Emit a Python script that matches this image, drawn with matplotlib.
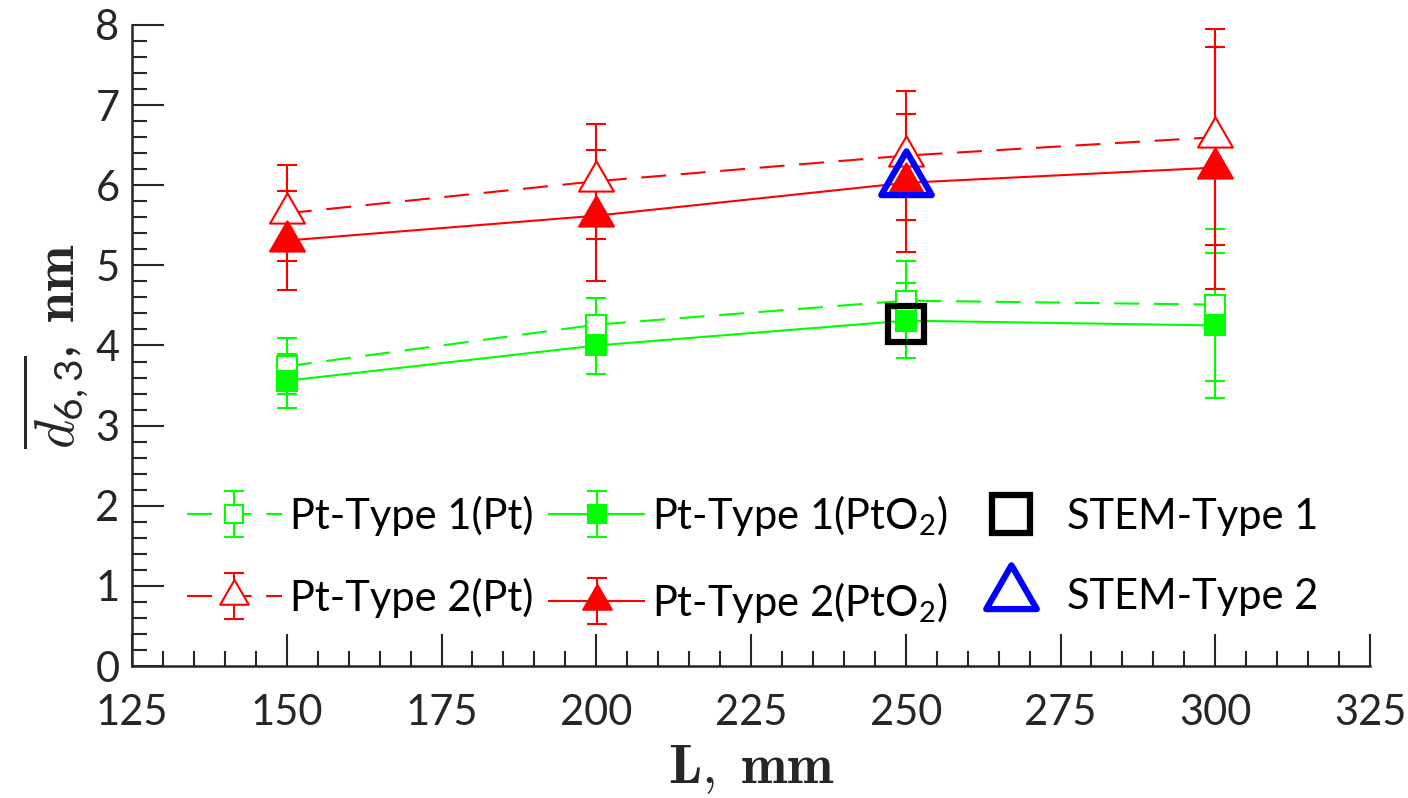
import numpy as np
import matplotlib
matplotlib.use('Agg')
import matplotlib.pyplot as plt
from matplotlib.ticker import MultipleLocator
from matplotlib.path import Path
from matplotlib.lines import Line2D
from matplotlib.legend_handler import HandlerErrorbar

plt.rcParams['font.family'] = ['Lato', 'DejaVu Sans']
plt.rcParams['mathtext.default'] = 'regular'

# dane
L = [150, 200, 250, 300]
t1_pt = [3.74, 4.26, 4.56, 4.51]
t1_pt_err = [0.35, 0.33, 0.50, 0.95]
t1_pto2 = [3.56, 4.00, 4.31, 4.25]
t1_pto2_err = [0.34, 0.36, 0.47, 0.91]
t2_pt = [5.65, 6.05, 6.37, 6.60]
t2_pt_err = [0.60, 0.72, 0.81, 1.35]
t2_pto2 = [5.31, 5.62, 6.03, 6.22]
t2_pto2_err = [0.62, 0.82, 0.86, 1.51]
stem_L = [250]
stem_t1 = [4.27]
stem_t2 = [6.06]

green = '#00ff00'
red = '#ff0000'
tc = '#262626'

# trojkat jak w MATLABie (punkt w srodku ciezkosci)
tri = Path([(0, 1), (-0.866, -0.5), (0.866, -0.5), (0, 1)],
           [Path.MOVETO, Path.LINETO, Path.LINETO, Path.CLOSEPOLY])

fig = plt.figure(figsize=(14.08, 7.98), dpi=100)
ax = fig.add_axes([0.0938, 0.1654, 0.8792, 0.8033])

kw = dict(capsize=7, elinewidth=1.5, capthick=1.5, lw=1.5, mew=1.5)
h1 = ax.errorbar(L, t1_pt, yerr=t1_pt_err, fmt='--', marker='s', color=green,
                 ms=15, mfc='white', dashes=(12, 7), **kw)
h2 = ax.errorbar(L, t1_pto2, yerr=t1_pto2_err, fmt='-', marker='s', color=green,
                 ms=15, mfc=green, **kw)
h3 = ax.errorbar(L, t2_pt, yerr=t2_pt_err, fmt='--', marker=tri, color=red,
                 ms=29, mfc='white', dashes=(12, 7), **kw)
h4 = ax.errorbar(L, t2_pto2, yerr=t2_pto2_err, fmt='-', marker=tri, color=red,
                 ms=29, mfc=red, **kw)
ax.plot(stem_L, stem_t1, 's', ms=26, mfc='none', mec='black', mew=4.5,
        ls='none', zorder=5)
ax.plot(stem_L, stem_t2, marker=tri, ms=42, mfc='none', mec='#0000ff', mew=4.5,
        ls='none', zorder=5)

ax.set_xlim(125, 325)
ax.set_ylim(0, 8)
ax.xaxis.set_major_locator(MultipleLocator(25))
ax.xaxis.set_minor_locator(MultipleLocator(5))
ax.yaxis.set_major_locator(MultipleLocator(1))
ax.yaxis.set_minor_locator(MultipleLocator(0.2))
ax.tick_params(which='both', direction='in', color=tc, width=1.5,
               labelsize=30, labelcolor=tc)
ax.tick_params(which='major', length=23)
ax.tick_params(which='minor', length=11)
ax.tick_params(axis='x', pad=20)
ax.tick_params(axis='y', pad=9)
for s in ['top', 'right']:
    ax.spines[s].set_visible(False)
for s in ['left', 'bottom']:
    ax.spines[s].set_color(tc)
    ax.spines[s].set_linewidth(1.8)

ax.set_xlabel(r'$\mathbf{L,}\;\mathbf{mm}$', fontsize=40, math_fontfamily='cm',
              color=tc, labelpad=8)
ax.set_ylabel(r'$\overline{\mathit{d}_{6,3}},\;\mathbf{nm}$', fontsize=40,
              math_fontfamily='cm', color=tc, labelpad=4)

# proxy dla STEM w legendzie (markerscale je zmniejsza)
msc = 0.82
p5 = Line2D([], [], ls='none', marker='s', ms=27 / msc, mfc='none',
            mec='black', mew=4.5)
p6 = Line2D([], [], ls='none', marker=tri, ms=42 / msc, mfc='none',
            mec='#0000ff', mew=4.5)

leg = ax.legend([h1, h3, h2, h4, p5, p6],
                ['Pt-Type 1(Pt)', 'Pt-Type 2(Pt)', 'Pt-Type 1(PtO$_2$)',
                 'Pt-Type 2(PtO$_2$)', 'STEM-Type 1', 'STEM-Type 2'],
                ncol=3, frameon=False, fontsize=30, handlelength=2.28,
                columnspacing=0.37, labelspacing=1.0, handletextpad=0.2,
                loc='lower left', bbox_to_anchor=(0.014, 0.006),
                markerscale=msc,
                handler_map={type(h1): HandlerErrorbar(yerr_size=0.55)})

fig.savefig('out.png', dpi=100)
